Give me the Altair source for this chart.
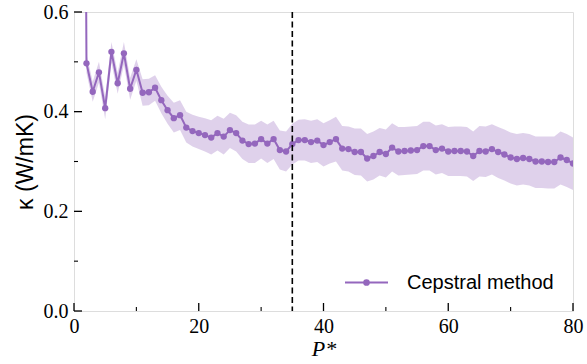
import altair as alt
import pandas as pd

# ---- data ----
P = list(range(1, 81))
kappa = [3.0, 0.497, 0.440, 0.479, 0.407, 0.520, 0.457, 0.517, 0.446, 0.484,
         0.438, 0.439, 0.448, 0.423, 0.403, 0.387, 0.393, 0.368, 0.361, 0.357,
         0.353, 0.348, 0.357, 0.350, 0.363, 0.357, 0.342, 0.335, 0.336, 0.345,
         0.336, 0.345, 0.323, 0.320, 0.335, 0.343, 0.343, 0.339, 0.342, 0.333,
         0.339, 0.345, 0.326, 0.325, 0.319, 0.319, 0.306, 0.311, 0.319, 0.315,
         0.328, 0.320, 0.321, 0.322, 0.323, 0.331, 0.331, 0.323, 0.326, 0.320,
         0.321, 0.321, 0.320, 0.311, 0.321, 0.320, 0.325, 0.319, 0.314, 0.308,
         0.305, 0.307, 0.305, 0.300, 0.300, 0.299, 0.299, 0.308, 0.303, 0.296]

band_P = list(range(2, 81))
upper = [0.515, 0.460, 0.500, 0.430, 0.540, 0.478, 0.540, 0.468, 0.505,
         0.465, 0.466, 0.473, 0.450, 0.432, 0.418, 0.423, 0.400, 0.394, 0.390,
         0.387, 0.383, 0.392, 0.386, 0.398, 0.393, 0.380, 0.374, 0.374, 0.382,
         0.374, 0.382, 0.362, 0.360, 0.376, 0.384, 0.385, 0.382, 0.385, 0.377,
         0.383, 0.390, 0.371, 0.370, 0.366, 0.366, 0.355, 0.360, 0.367, 0.364,
         0.377, 0.369, 0.369, 0.370, 0.371, 0.380, 0.380, 0.372, 0.375, 0.369,
         0.370, 0.370, 0.369, 0.360, 0.371, 0.370, 0.375, 0.369, 0.364, 0.358,
         0.355, 0.357, 0.355, 0.350, 0.350, 0.350, 0.350, 0.360, 0.355, 0.348]
lower = [0.478, 0.420, 0.458, 0.385, 0.498, 0.436, 0.494, 0.424, 0.462,
         0.412, 0.413, 0.422, 0.397, 0.376, 0.358, 0.363, 0.338, 0.330, 0.325,
         0.320, 0.314, 0.322, 0.314, 0.327, 0.320, 0.305, 0.297, 0.297, 0.306,
         0.297, 0.305, 0.284, 0.280, 0.294, 0.302, 0.302, 0.297, 0.299, 0.290,
         0.296, 0.300, 0.282, 0.280, 0.273, 0.272, 0.260, 0.264, 0.272, 0.268,
         0.280, 0.272, 0.273, 0.274, 0.275, 0.282, 0.282, 0.274, 0.277, 0.271,
         0.271, 0.271, 0.270, 0.261, 0.270, 0.269, 0.274, 0.267, 0.262, 0.256,
         0.252, 0.254, 0.252, 0.247, 0.247, 0.246, 0.246, 0.254, 0.249, 0.243]

x_major = [0, 20, 40, 60, 80]
x_minor = [10, 30, 50, 70]
y_major = [0.0, 0.2, 0.4, 0.6]
y_minor = [0.1, 0.3, 0.5]
vline_x = [35]
series_name = "Cepstral method"

PURPLE = "#9467bd"
W, H = 499, 299

df = pd.DataFrame({"P": P, "kappa": kappa, "series": series_name})
band = pd.DataFrame({"P": band_P, "lo": lower, "hi": upper})

xs = alt.Scale(domain=[0, 80], nice=False, zero=False)
ys = alt.Scale(domain=[0, 0.6], nice=False, zero=False)

x_axis = alt.Axis(values=x_major, tickSize=0, domain=False, grid=False,
                  labelFlush=False, labelOverlap=False,
                  labelPadding=5, labelFont="Liberation Serif", labelFontSize=20,
                  labelColor="black", title="P*", titleFont="Liberation Serif",
                  titleFontStyle="italic", titleFontWeight="normal", titleFontSize=22,
                  titleColor="black", titlePadding=2)
y_axis = alt.Axis(values=y_major, format=".1f", tickSize=0, domain=False, grid=False,
                  labelFlush=False, labelOverlap=False,
                  labelPadding=6, labelFont="Liberation Serif", labelFontSize=20,
                  labelColor="black", title="κ (W/mK)", titleFont="Liberation Sans",
                  titleFontWeight="normal", titleFontSize=23, titleColor="black",
                  titlePadding=6)

legend_path = ("M-1,0L1,0M-0.11,0A0.11,0.11,0,1,1,0.11,0"
               "A0.11,0.11,0,1,1,-0.11,0Z")

band_layer = alt.Chart(band).mark_area(color=PURPLE, opacity=0.3, clip=True).encode(
    x=alt.X("P:Q", scale=xs, axis=x_axis),
    y=alt.Y("lo:Q", scale=ys, axis=y_axis),
    y2="hi:Q",
)

line_layer = alt.Chart(df).mark_line(strokeWidth=2, clip=True).encode(
    x=alt.X("P:Q", scale=xs),
    y=alt.Y("kappa:Q", scale=ys),
    color=alt.Color("series:N", scale=alt.Scale(domain=[series_name], range=[PURPLE]),
                    legend=alt.Legend(title=None, orient="none", legendX=270, legendY=248,
                                      symbolType=legend_path, symbolSize=1849,
                                      symbolStrokeWidth=2, symbolFillColor=PURPLE,
                                      symbolStrokeColor=PURPLE, labelOffset=18,
                                      labelFont="Liberation Sans", labelFontSize=20,
                                      labelColor="black", padding=0)),
)

point_layer = alt.Chart(df).mark_circle(size=40, opacity=1, color=PURPLE, clip=True).encode(
    x=alt.X("P:Q", scale=xs),
    y=alt.Y("kappa:Q", scale=ys),
)

vline_layer = alt.Chart(pd.DataFrame({"x": vline_x})).mark_rule(
    color="black", strokeWidth=1.6, strokeDash=[6, 3.5]).encode(
    x=alt.X("x:Q", scale=xs),
)

xmaj = alt.Chart(pd.DataFrame({"t": x_major})).mark_rule(color="black", strokeWidth=1.3).encode(
    x=alt.X("t:Q", scale=xs), y=alt.value(H), y2=alt.value(H - 8))
xmin = alt.Chart(pd.DataFrame({"t": x_minor})).mark_rule(color="black", strokeWidth=1.1).encode(
    x=alt.X("t:Q", scale=xs), y=alt.value(H), y2=alt.value(H - 4))
ymaj = alt.Chart(pd.DataFrame({"t": y_major})).mark_rule(color="black", strokeWidth=1.3).encode(
    y=alt.Y("t:Q", scale=ys), x=alt.value(0), x2=alt.value(8))
ymin = alt.Chart(pd.DataFrame({"t": y_minor})).mark_rule(color="black", strokeWidth=1.1).encode(
    y=alt.Y("t:Q", scale=ys), x=alt.value(0), x2=alt.value(4))

chart = alt.layer(band_layer, line_layer, point_layer, vline_layer,
                  xmaj, xmin, ymaj, ymin).properties(
    width=W, height=H,
    autosize=alt.AutoSizeParams(type="none"),
    padding={"left": 74, "top": 12, "right": 14, "bottom": 53},
).configure_view(stroke="black", strokeWidth=1.5).configure(background="white")

chart.save("out.html", embed_options={"renderer": "svg", "actions": False})
